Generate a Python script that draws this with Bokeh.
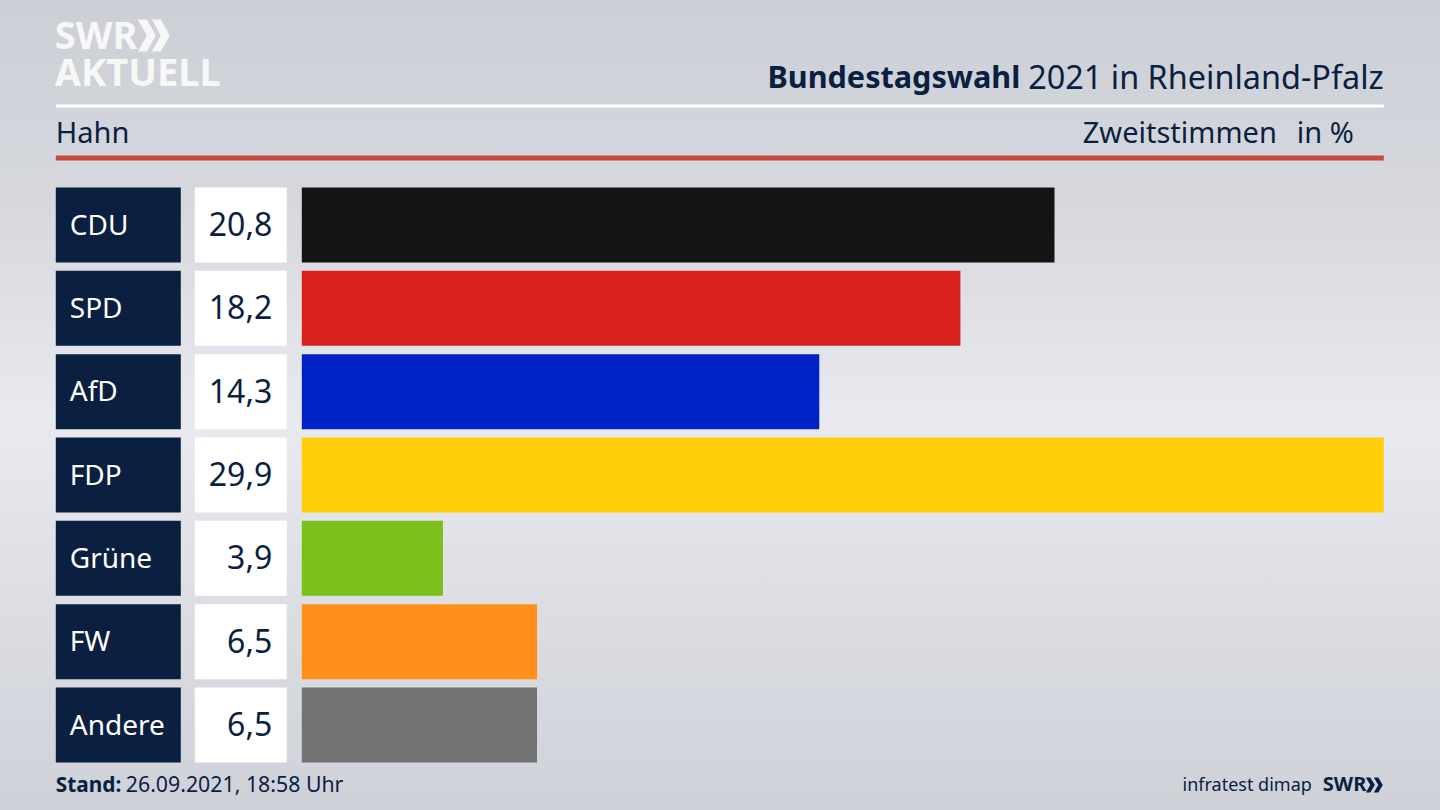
from bokeh.embed import file_html
from bokeh.models import GlobalInlineStyleSheet, Label, Range1d
from bokeh.plotting import figure
from bokeh.resources import INLINE

categories = ["CDU", "SPD", "AfD", "FDP", "Grüne", "FW", "Andere"]
values = [20.8, 18.2, 14.3, 29.9, 3.9, 6.5, 6.5]
value_labels = ["20,8", "18,2", "14,3", "29,9", "3,9", "6,5", "6,5"]
colors = ["#141414", "#d8201f", "#0022c4", "#ffcd0a", "#7abf1a", "#ff8f16", "#737373"]

NAVY = "#0b1f40"
FONT = "Noto Sans"
UNIT = 1082 / 29.9      # px per percent
PITCH = 500 / 6         # px per row
ROW0 = 224.5
TEXT_DY = -1.5


def X(px):
    return (px - 302) / UNIT


def Y(py):
    return (py - ROW0) / PITCH


rows = list(range(len(categories)))

css = GlobalInlineStyleSheet(css="""
html, body { margin: 0; overflow: hidden; background: linear-gradient(180deg, #cccfd6 0%, #d6d8de 25%, #e9eaef 52%, #d9dbe1 80%, #ced1d8 100%) no-repeat fixed; }
""")

p = figure(width=1440, height=810, output_backend="svg", toolbar_location=None,
           x_range=Range1d(X(0.7), X(1440.7)), y_range=Range1d(Y(810), Y(0)),
           min_border=0, outline_line_color=None, stylesheets=[css])
p.axis.visible = False
p.grid.visible = False
p.background_fill_alpha = 0
p.border_fill_alpha = 0

# rules
p.quad(left=[X(56)], right=[X(1384)], top=[Y(104)], bottom=[Y(107)], color="#ffffff", line_width=0)
p.quad(left=[X(56)], right=[X(1384)], top=[Y(155)], bottom=[Y(160)], color="#c9483a", line_width=0)

# rows
h = 75 / PITCH
p.hbar(y=rows, left=X(56), right=X(181), height=h, color=NAVY, line_width=0)
p.hbar(y=rows, left=X(195), right=X(287), height=h, color="#ffffff", line_width=0)
p.hbar(y=rows, left=0, right=values, height=h, color=colors, line_width=0)


def label(px, py, text, size, color=NAVY, align="left", style="normal"):
    p.add_layout(Label(x=X(px), y=Y(py + TEXT_DY), text=text, text_color=color, text_font=FONT,
                       text_font_size=f"{size}px", text_align=align,
                       text_baseline="middle", text_font_style=style))


for r, c, v in zip(rows, categories, value_labels):
    cy = ROW0 + r * PITCH
    label(70, cy, c, 28, color="#ffffff")
    label(272.5, cy + 0.5, v, 32, align="right")

label(1384, 77, "2021 in Rheinland-Pfalz", 32.4, align="right")
label(1020.5, 77, "Bundestagswahl", 30.6, align="right", style="bold")
label(56, 132, "Hahn", 29)
label(1277, 132, "Zweitstimmen", 29, align="right")
label(1354, 132, "in %", 29, align="right")
label(56, 784.5, "Stand:", 20.8, style="bold")
label(126, 784.5, "26.09.2021, 18:58 Uhr", 21.3)
label(1312, 784.5, "infratest dimap", 18, align="right")
label(1323, 784.5, "SWR", 20, style="bold")

# logos
label(55, 35, "SWR", 38, color="#f7f7f8", style="bold")
label(55, 72, "AKTUELL", 38, color="#f7f7f8", style="bold")


def chevrons(x0, y0, h, w, gap, color):
    xs, ys = [], []
    for k in range(2):
        a = x0 + k * gap
        t = w * 0.5
        xs.append([X(a), X(a + t), X(a + w), X(a + t), X(a), X(a + w - t)])
        ys.append([Y(y0), Y(y0), Y(y0 + h / 2), Y(y0 + h), Y(y0 + h), Y(y0 + h / 2)])
    p.patches(xs, ys, color=color, line_width=0)


chevrons(138, 19, 32, 18, 14, "#f7f7f8")
chevrons(1366, 777, 15, 9, 8, NAVY)

open("out.html", "w").write(file_html(p, INLINE))
